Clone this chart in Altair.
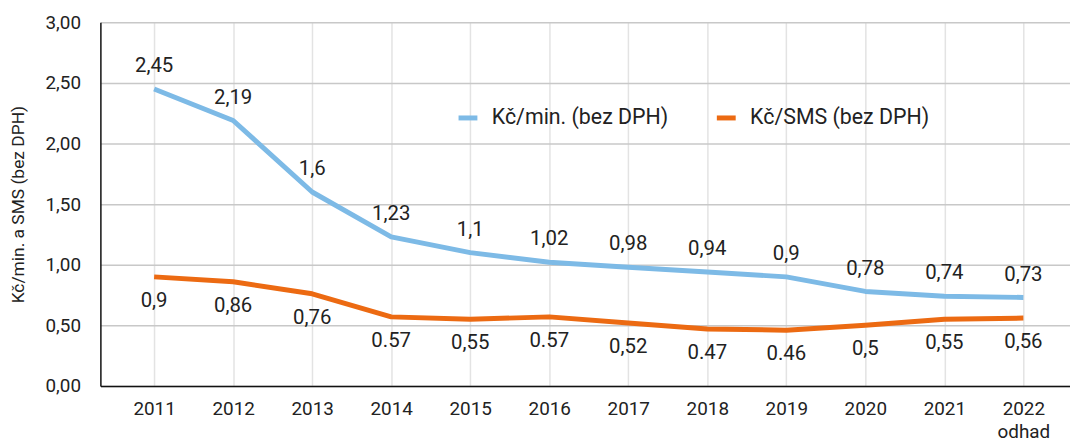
import altair as alt
import pandas as pd

years = [2011, 2012, 2013, 2014, 2015, 2016, 2017, 2018, 2019, 2020, 2021, 2022]
min_values = [2.45, 2.19, 1.6, 1.23, 1.1, 1.02, 0.98, 0.94, 0.9, 0.78, 0.74, 0.73]
sms_values = [0.9, 0.86, 0.76, 0.57, 0.55, 0.57, 0.52, 0.47, 0.46, 0.5, 0.55, 0.56]
min_labels = ["2,45", "2,19", "1,6", "1,23", "1,1", "1,02", "0,98", "0,94", "0,9", "0,78", "0,74", "0,73"]
sms_labels = ["0,9", "0,86", "0,76", "0.57", "0,55", "0.57", "0,52", "0.47", "0.46", "0,5", "0,55", "0,56"]
series_names = ["Kč/min. (bez DPH)", "Kč/SMS (bez DPH)"]
series_colors = ["#7dbae6", "#ec6a12"]
y_title = "Kč/min. a SMS (bez DPH)"

rows = []
for y, v, l in zip(years, min_values, min_labels):
    rows.append({"year": y, "value": v, "label": l, "series": series_names[0]})
for y, v, l in zip(years, sms_values, sms_labels):
    rows.append({"year": y, "value": v, "label": l, "series": series_names[1]})
df = pd.DataFrame(rows)

FONT = "Roboto"
TXT = "#222222"

x_enc = alt.X(
    "year:Q",
    scale=alt.Scale(domain=[2010.32, 2022.59], nice=False, zero=False),
    axis=alt.Axis(
        values=years,
        title=None,
        grid=True,
        gridColor="#e3e3e3",
        gridWidth=1.5,
        domainColor="#111111",
        domainWidth=1.5,
        ticks=False,
        labelFontSize=19,
        labelFont=FONT,
        labelColor=TXT,
        labelPadding=14,
        labelLineHeight=23,
        labelExpr="datum.value == 2022 ? ['2022', 'odhad'] : format(datum.value, 'd')",
    ),
)
y_enc = alt.Y(
    "value:Q",
    scale=alt.Scale(domain=[0, 3], nice=False),
    axis=alt.Axis(
        values=[0, 0.5, 1, 1.5, 2, 2.5, 3],
        title=y_title,
        titleFont=FONT,
        titleFontSize=17.5,
        titleFontWeight="normal",
        titleColor=TXT,
        titleAngle=270,
        titleX=-82,
        titleY=183,
        titleAlign="center",
        titleBaseline="middle",
        grid=True,
        gridColor="#c8c8c8",
        gridWidth=1.5,
        domainColor="#111111",
        domainWidth=1.5,
        ticks=False,
        labelFontSize=19,
        labelFont=FONT,
        labelColor=TXT,
        labelPadding=20,
        labelExpr="replace(format(datum.value, '.2f'), '.', ',')",
    ),
)
color_enc = alt.Color(
    "series:N",
    scale=alt.Scale(domain=series_names, range=series_colors),
    legend=alt.Legend(
        title=None,
        orient="none",
        legendX=358,
        legendY=84,
        direction="horizontal",
        symbolType="stroke",
        symbolStrokeWidth=5,
        symbolSize=360,
        labelFont=FONT,
        labelFontSize=21.5,
        labelColor=TXT,
        labelLimit=0,
        labelOffset=12,
        columnPadding=38,
    ),
)

base = alt.Chart(df)
lines = base.mark_line(strokeWidth=5, strokeJoin="round").encode(x=x_enc, y=y_enc, color=color_enc)
top_labels = base.transform_filter(alt.datum.series == series_names[0]).mark_text(
    dy=-23, fontSize=20.5, font=FONT, color=TXT
).encode(x="year:Q", y="value:Q", text="label:N")
bot_labels = base.transform_filter(alt.datum.series == series_names[1]).mark_text(
    dy=24, fontSize=20.5, font=FONT, color=TXT
).encode(x="year:Q", y="value:Q", text="label:N")

chart = alt.layer(lines, top_labels, bot_labels).properties(
    width=976,
    height=366,
    autosize="none",
    padding={"left": 93, "top": 13, "right": 0, "bottom": 56},
    background="white",
).configure_view(stroke=None)

chart.save("out.html", embed_options={"renderer": "svg", "actions": False})
